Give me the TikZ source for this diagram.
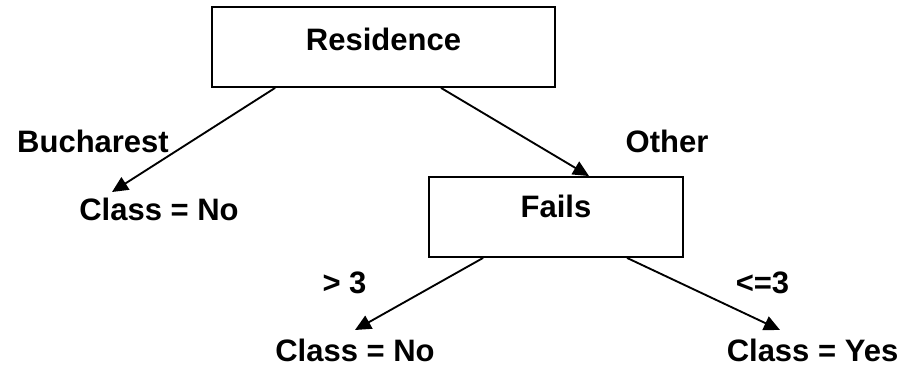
\documentclass[tikz,border=0pt]{standalone}
\usepackage{fontspec}
\setmainfont{Liberation Sans}
\usetikzlibrary{arrows.meta,calc}
\begin{document}
\begin{tikzpicture}[x=0.75pt,y=-0.75pt,
  every node/.style={font=\fontsize{23.25}{28}\selectfont\bfseries},
  treebox/.style={draw,line width=1.4pt,inner sep=0pt,minimum height=60pt,text height=16.5pt},
  lbl/.style={anchor=base,inner sep=0pt},
  arr/.style={line width=1.4pt,-{Triangle[length=12pt,width=11pt]}}]
\useasboundingbox (0,0) rectangle (903,368);
\node[treebox,minimum width=257.25pt,text depth=12pt] (res) at (383.5,47) {Residence};
\node[treebox,minimum width=190.5pt,text depth=16.5pt] (fails) at (556,217) {Fails};
\node[lbl] (buch) at (93,152) {Bucharest};
\node[lbl] (other) at (667,152) {Other};
\node[lbl] (no1) at (159,220) {Class = No};
\node[lbl] (gt) at (344.5,293) {> 3};
\node[lbl] (le) at (762.5,293) {<=3};
\node[lbl] (no2) at (355,361) {Class = No};
\node[lbl] (yes) at (812.5,361) {Class = Yes};
\coordinate (t1) at (112,192);
\coordinate (t3) at (355,330);
\coordinate (t4) at (780,330);
\draw[arr] ($(res.south west)+(64,0)$) -- (t1);
\draw[arr] ($(res.south west)+(230,0)$) -- ($(fails.north west)+(161,0)$);
\draw[arr] ($(fails.south west)+(55,0)$) -- (t3);
\draw[arr] ($(fails.south west)+(199,0)$) -- (t4);
\end{tikzpicture}
\end{document}
